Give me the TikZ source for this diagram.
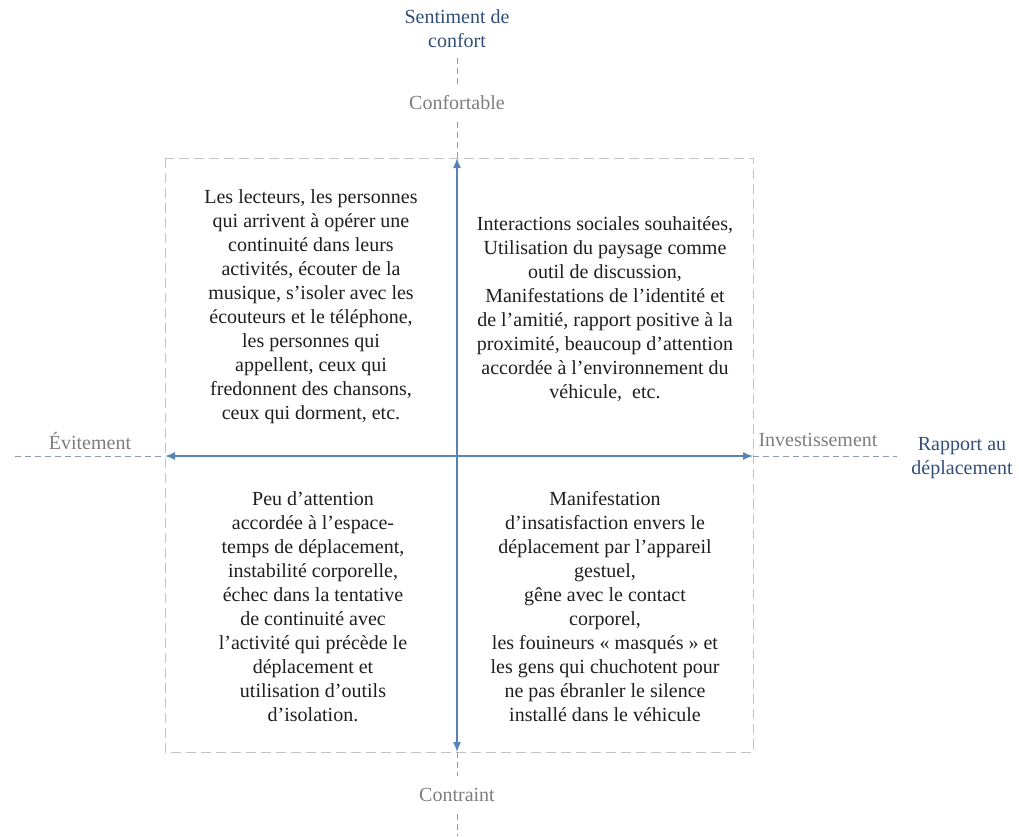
\documentclass[tikz,border=0pt]{standalone}
\usepackage{fontspec}
\setmainfont{Liberation Serif}
\usepackage{xcolor}
\usepackage{tikz}
\usetikzlibrary{arrows.meta,arrows}
\usetikzlibrary{positioning}

\definecolor{axeBleu}{RGB}{88,132,180}
\definecolor{titreBleu}{RGB}{50,78,118}
\definecolor{poleGris}{RGB}{125,125,125}
\definecolor{tiretBleu}{RGB}{140,155,178}
\definecolor{cadreGris}{RGB}{195,195,195}
\definecolor{texteNoir}{RGB}{30,30,30}

\begin{document}
\begin{tikzpicture}[
            x = 1pt, y = -1pt, % one unit per pixel, y goes down
            > = {Latex[length=10pt,width=8pt]}, % arrow head style
            semithick % line style
        ]

        \tikzstyle{every node}=[
            font = \fontsize{20}{24}\selectfont,
            inner sep = 0pt
        ]
        \tikzstyle{quadrant}=[align = center, text = texteNoir]
        \tikzstyle{pole}=[text = poleGris, outer sep = 12pt]
        \tikzstyle{titre}=[align = center, text = titreBleu, outer sep = 10pt]
        \tikzstyle{axe}=[color = axeBleu, line width = 1.4pt]
        \tikzstyle{prolong}=[color = tiretBleu, line width = 0.8pt, dash pattern = on 6pt off 4pt]
        \tikzstyle{boite}=[draw = cadreGris, line width = 0.8pt, dash pattern = on 10pt off 5pt]

        \useasboundingbox (0,0) rectangle (1019,836);

        % Axis ends
        \coordinate (haut) at (457,158);
        \coordinate (bas) at (457,752);
        \coordinate (gauche) at (165,456);
        \coordinate (droite) at (753,456);
        \coordinate (basFin) at (457,836);
        \coordinate (gaucheFin) at (15,456);
        \coordinate (droiteFin) at (897,456);

        \draw[boite] (gauche |- haut) rectangle (droite |- bas);

        % Axis labels
        \node[titre] (sentiment) [at={(457,29)}] {Sentiment de\\confort};
        \node[pole] (confortable) [at={(457,103)}] {Confortable};
        \node[pole] (contraint) [at={(457,795)}] {Contraint};
        \node[pole, anchor = base] (evitement) [at={(90,449)}] {Évitement};
        \node[pole, anchor = base] (investissement) [at={(818,446)}] {Investissement};
        \node[titre] (rapport) [at={(962,458)}] {Rapport au\\déplacement};

        % Quadrants
        \node[quadrant] (q1) [at={(311,307)}] {Les lecteurs, les personnes\\qui arrivent à opérer une\\continuité dans leurs\\activités, écouter de la\\musique, s’isoler avec les\\écouteurs et le téléphone,\\les personnes qui\\appellent, ceux qui\\fredonnent des chansons,\\ceux qui dorment, etc.};
        \node[quadrant] (q2) [at={(605,309)}] {Interactions sociales souhaitées,\\Utilisation du paysage comme\\outil de discussion,\\Manifestations de l’identité et\\de l’amitié, rapport positive à la\\proximité, beaucoup d’attention\\accordée à l’environnement du\\véhicule,~~etc.};
        \node[quadrant] (q3) [at={(313,607)}] {Peu d’attention\\accordée à l’espace-\\temps de déplacement,\\instabilité corporelle,\\échec dans la tentative\\de continuité avec\\l’activité qui précède le\\déplacement et\\utilisation d’outils\\d’isolation.};
        \node[quadrant] (q4) [at={(605,607)}] {Manifestation\\d’insatisfaction envers le\\déplacement par l’appareil\\gestuel,\\gêne avec le contact\\corporel,\\les fouineurs « masqués » et\\les gens qui chuchotent pour\\ne pas ébranler le silence\\installé dans le véhicule};

        \path[<->, axe] (haut) edge node {} (bas);
        \path[<->, axe] (gauche) edge node {} (droite);

        \path[prolong] (sentiment) edge node {} (confortable);
        \path[prolong] (confortable) edge node {} (haut);
        \path[prolong] (bas) edge node {} (contraint);
        \path[prolong] (contraint) edge node {} (basFin);
        \path[prolong] (gaucheFin) edge node {} (gauche);
        \path[prolong] (droite) edge node {} (droiteFin);

\end{tikzpicture}
\end{document}
